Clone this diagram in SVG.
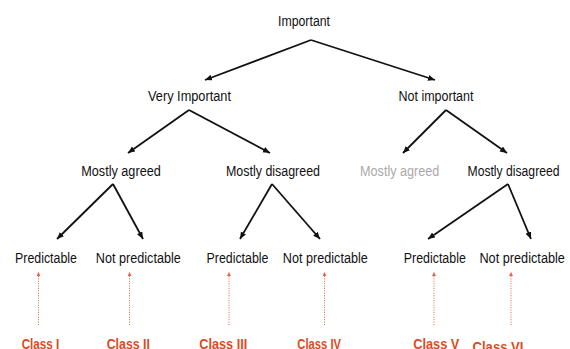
<svg xmlns="http://www.w3.org/2000/svg" width="570" height="349" viewBox="0 0 570 349">
<style>
.t{font-family:"Liberation Sans",Arial,sans-serif;font-size:14px;fill:#111;text-anchor:middle}
.g{fill:#aaaaaa}
.c{font-family:"Liberation Sans",Arial,sans-serif;font-size:14px;font-weight:bold;fill:#dc4a1e;text-anchor:middle}
.a{fill:none;stroke:#111;stroke-width:1.8;marker-end:url(#ah)}
.r{fill:none;stroke:#e2694a;stroke-width:1;stroke-dasharray:1 1.4;marker-end:url(#rh)}
</style>
<defs>
<marker id="ah" markerUnits="userSpaceOnUse" markerWidth="8" markerHeight="7" refX="7" refY="3" orient="auto">
<path d="M0,0 L7,3 L0,6 z" fill="#111"/>
</marker>
<marker id="rh" markerUnits="userSpaceOnUse" markerWidth="5" markerHeight="4" refX="4" refY="2" orient="auto">
<path d="M0,0 L4,2 L0,4 z" fill="#e2694a"/>
</marker>
</defs>
<rect width="570" height="349" fill="#fff"/>
<g id="connectors">
<path class="a" d="M311,40 L205,80"/>
<path class="a" d="M311,40 L435,80"/>
<path class="a" d="M189,110 L128,153"/>
<path class="a" d="M189,110 L270,153"/>
<path class="a" d="M446,110 L403,153"/>
<path class="a" d="M446,110 L507,153"/>
<path class="a" d="M113,184 L57,239"/>
<path class="a" d="M113,184 L143,239"/>
<path class="a" d="M272,184 L240,239"/>
<path class="a" d="M272,184 L320,239"/>
<path class="a" d="M508,184 L428,239"/>
<path class="a" d="M508,184 L531,239"/>
<path class="r" d="M38.5,325 L38.5,272"/>
<path class="r" d="M129.5,325 L129.5,272"/>
<path class="r" d="M229,325 L229,272"/>
<path class="r" d="M324.5,325 L324.5,272"/>
<path class="r" d="M434,325 L434,272"/>
<path class="r" d="M511,325 L511,272"/>
</g>
<g id="n-important"><text class="t" x="304" y="25.7" textLength="52" lengthAdjust="spacingAndGlyphs">Important</text></g>
<g id="n-very-important"><text class="t" x="189.5" y="100.7" textLength="83" lengthAdjust="spacingAndGlyphs">Very Important</text></g>
<g id="n-not-important"><text class="t" x="436" y="100.7" textLength="75" lengthAdjust="spacingAndGlyphs">Not important</text></g>
<g id="n-vi-agreed"><text class="t" x="121" y="176" textLength="79.5" lengthAdjust="spacingAndGlyphs">Mostly agreed</text></g>
<g id="n-vi-disagreed"><text class="t" x="273" y="176" textLength="94" lengthAdjust="spacingAndGlyphs">Mostly disagreed</text></g>
<g id="n-ni-agreed"><text class="t g" x="399.7" y="176" textLength="79.3" lengthAdjust="spacingAndGlyphs">Mostly agreed</text></g>
<g id="n-ni-disagreed"><text class="t" x="513.5" y="176" textLength="92" lengthAdjust="spacingAndGlyphs">Mostly disagreed</text></g>
<g id="n-p1"><text class="t" x="46" y="263.3" textLength="62" lengthAdjust="spacingAndGlyphs">Predictable</text></g>
<g id="n-np1"><text class="t" x="138.3" y="263.3" textLength="85" lengthAdjust="spacingAndGlyphs">Not predictable</text></g>
<g id="n-p2"><text class="t" x="237.5" y="263.3" textLength="62" lengthAdjust="spacingAndGlyphs">Predictable</text></g>
<g id="n-np2"><text class="t" x="325.3" y="263.3" textLength="85" lengthAdjust="spacingAndGlyphs">Not predictable</text></g>
<g id="n-p3"><text class="t" x="434.8" y="263.3" textLength="62" lengthAdjust="spacingAndGlyphs">Predictable</text></g>
<g id="n-np3"><text class="t" x="522.2" y="263.3" textLength="85.5" lengthAdjust="spacingAndGlyphs">Not predictable</text></g>
<g id="n-class1"><text class="c" x="40.5" y="349" textLength="37.6" lengthAdjust="spacingAndGlyphs">Class I</text></g>
<g id="n-class2"><text class="c" x="128.3" y="349" textLength="43.3" lengthAdjust="spacingAndGlyphs">Class II</text></g>
<g id="n-class3"><text class="c" x="223.3" y="349" textLength="48" lengthAdjust="spacingAndGlyphs">Class III</text></g>
<g id="n-class4"><text class="c" x="319.2" y="349" textLength="43.7" lengthAdjust="spacingAndGlyphs">Class IV</text></g>
<g id="n-class5"><text class="c" x="436.3" y="349" textLength="46" lengthAdjust="spacingAndGlyphs">Class V</text></g>
<g id="n-class6"><text class="c" x="498" y="351.5" textLength="51" lengthAdjust="spacingAndGlyphs">Class VI</text></g>
</svg>
